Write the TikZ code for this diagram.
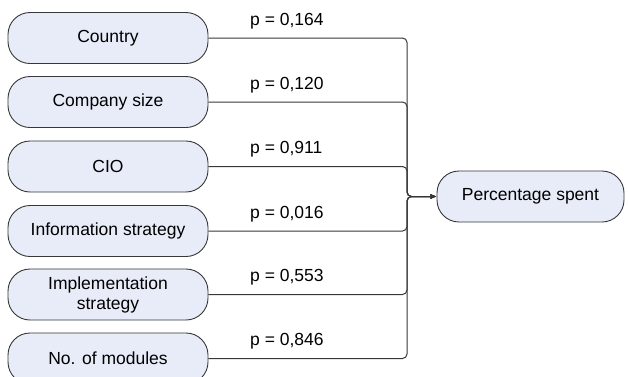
\documentclass[tikz,border=0pt]{standalone}
\usepackage{fontspec}
\setmainfont{Liberation Sans}
\usetikzlibrary{arrows.meta}
\definecolor{boxfill}{RGB}{231,236,248}
\definecolor{boxline}{RGB}{55,55,55}
\begin{document}
\begin{tikzpicture}[x=1pt,y=-1pt,
  factor/.style={draw=boxline, fill=boxfill, line width=0.9pt, rounded corners=22pt,
    minimum width=200pt, minimum height=51pt, align=center, inner sep=0pt,
    font=\fontsize{17.5}{20}\selectfont},
  link/.style={draw=boxline, line width=1pt, rounded corners=4.5pt},
  plabel/.style={anchor=base west, inner sep=0pt, font=\fontsize{17.5}{20}\selectfont}]
\clip (0,0) rectangle (628,376);

% predictor boxes
\node[factor] (country) at (108,38) {Country};
\node[factor] (size)    at (108,102) {Company size};
\node[factor] (cio)     at (108,166.5) {CIO};
\node[factor] (info)    at (108,231) {Information strategy};
\node[factor] (impl)    at (108,294.5) {Implementation\\strategy};
\node[factor] (mods)    at (108,358.5) {No. of modules};

% outcome box
\node[factor, minimum width=187pt] (pct) at (530.5,196.5) {Percentage spent};

% junction where all connectors meet
\coordinate (jn) at (407,196.5);

% connectors
\foreach \src in {country,size,cio,info,impl,mods}
  \draw[link, -{Latex[length=6pt,width=5pt]}] (\src.east) -| (jn) -- (pct.west);

% p-values
\node[plabel] (pcountry) at (250,25) {p = 0,164};
\node[plabel] (psize)    at (250,89) {p = 0,120};
\node[plabel] (pcio)     at (250,153.5) {p = 0,911};
\node[plabel] (pinfo)    at (250,218.5) {p = 0,016};
\node[plabel] (pimpl)    at (250,281.5) {p = 0,553};
\node[plabel] (pmods)    at (250,345.5) {p = 0,846};
\end{tikzpicture}
\end{document}
